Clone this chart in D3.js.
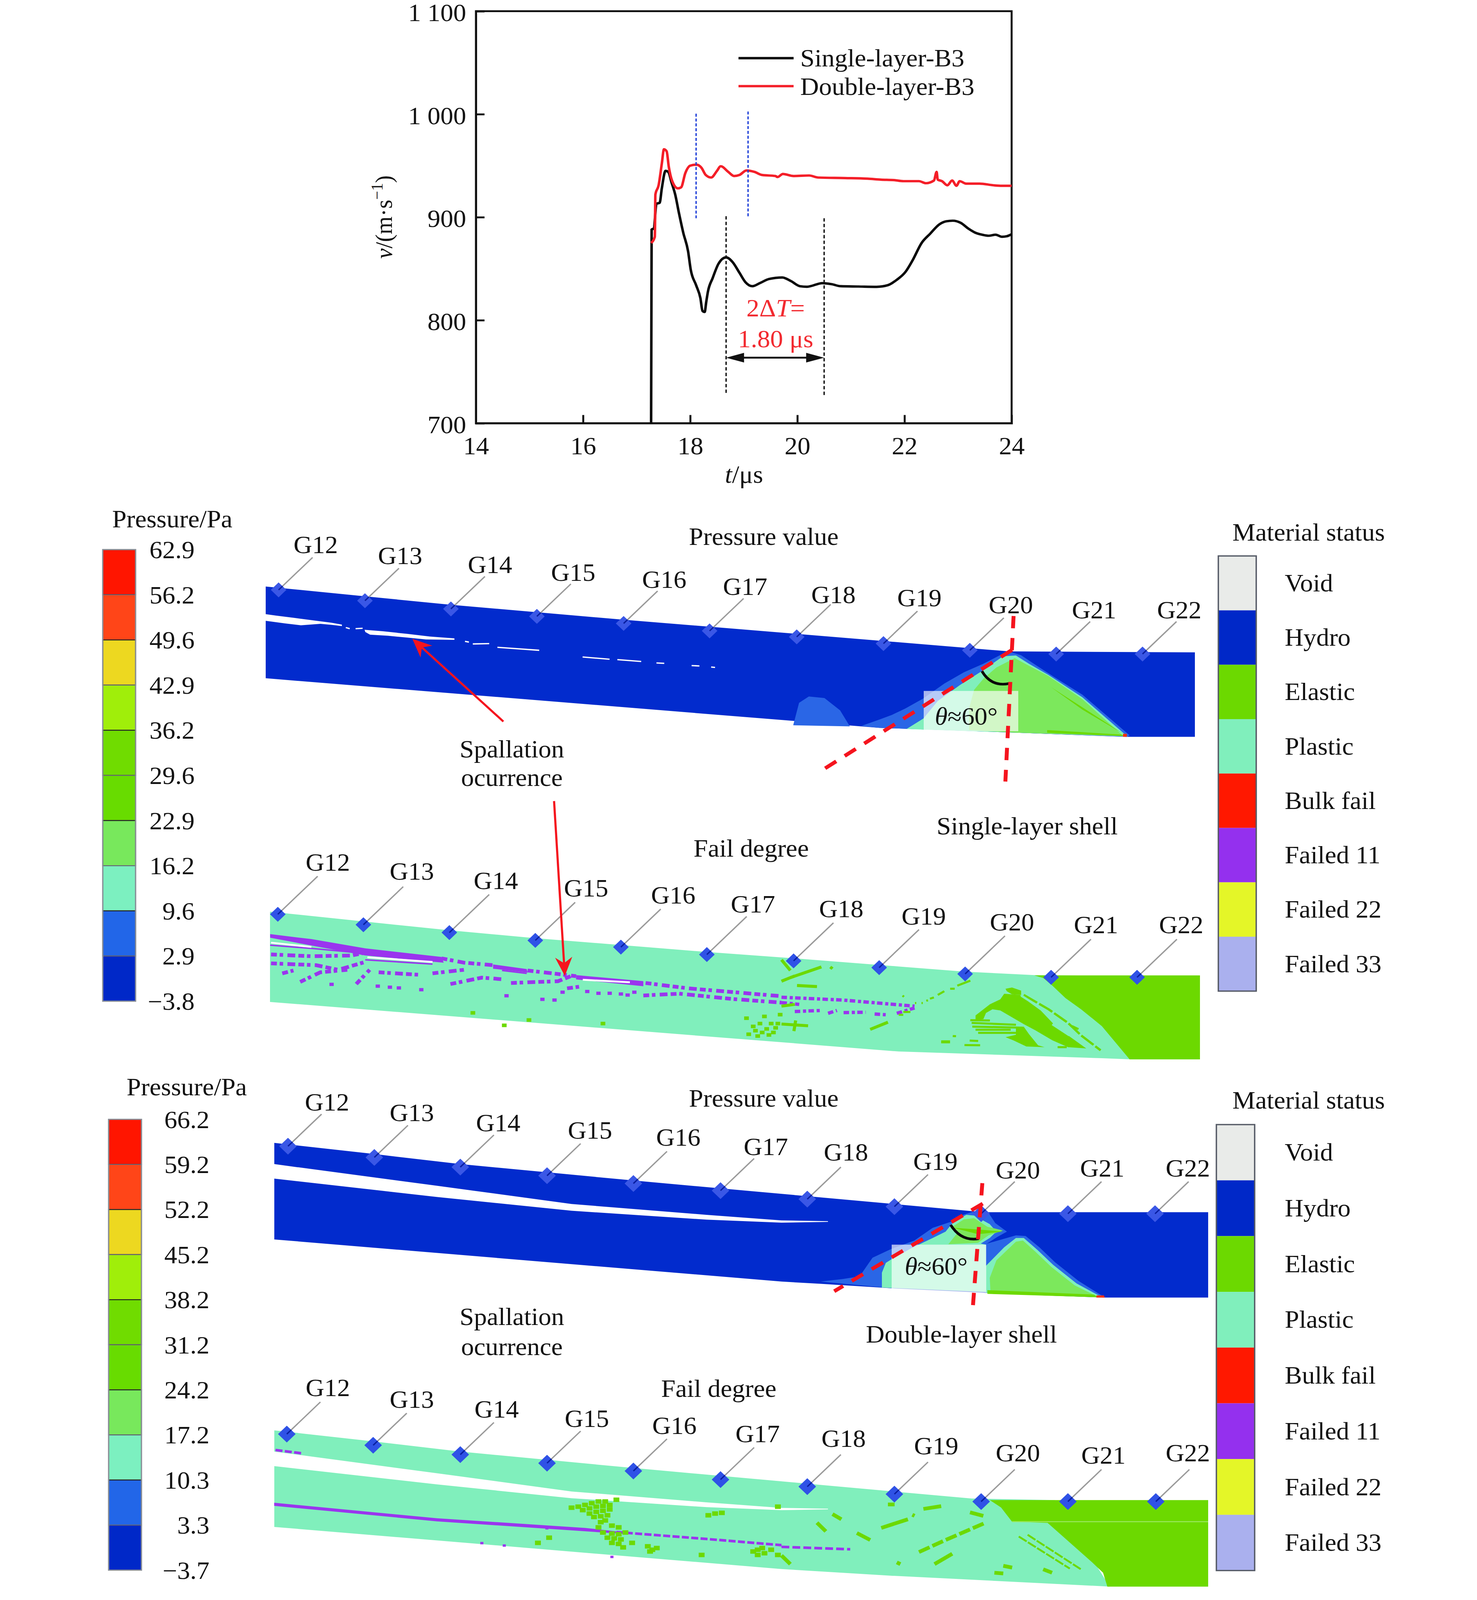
<!DOCTYPE html>
<html><head><meta charset="utf-8">
<script src="https://cdn.jsdelivr.net/npm/d3@7"></script>
<style>html,body{margin:0;padding:0;background:#fff;overflow:hidden}svg{display:block}text{font-family:"Liberation Serif",serif;fill:#111;font-size:66px}</style>
</head><body><div id="c"></div>
<script>
/* ---------- velocity curves ---------- */
const singleT=[17.27,17.28,17.32,17.37,17.43,17.47,17.54,17.59,17.65,17.72,17.79,17.87,17.96,18.01,18.11,18.19,18.23,18.27,18.30,18.33,18.42,18.53,18.67,18.79,18.92,19.03,19.16,19.30,19.47,19.72,19.88,20.05,20.18,20.47,20.64,20.81,21.14,21.48,21.69,21.85,22.02,22.15,22.32,22.48,22.65,22.78,22.90,23.05,23.19,23.32,23.45,23.57,23.70,23.82,23.91,24];
const singleV=[700,888,889,913,914,928,945,944,934,922,904,885,867,849,834,821.5,809,808,818,827.5,841,855,861,856.5,846,837,833,836,840,841.5,838,833,832.5,836,835,833,832.7,832.4,834,839,847,858,875,884,893,896,896.6,894.5,889,885,883,882,883,881,881.5,883.5];
const doubleT=[17.27,17.34,17.35,17.41,17.47,17.51,17.56,17.60,17.66,17.77,17.83,17.91,18.0,18.12,18.21,18.29,18.39,18.5,18.57,18.71,18.82,18.92,19.05,19.2,19.34,19.59,19.63,19.73,19.93,20.22,20.39,20.89,21.31,21.56,21.81,21.98,22.27,22.40,22.55,22.6,22.62,22.7,22.8,22.89,22.97,23.03,23.15,23.4,23.66,23.82,24];
const doubleV=[875,881,922,931,952,966,964,949,935.6,928,929,943,950,951,948,941,938.5,945,949.5,944,940,941,945.4,944,941,940,939,942,940,940.5,938.5,938,937.4,936.5,936,935,935,933,935.6,944,936.5,935,931,935.6,930.5,935,932.6,932.6,931,930.5,930.5];
const xTicks=[14,16,18,20,22,24];
const yTicks=[700,800,900,1000,1100];
const yTickLabels=["700","800","900","1 000","1 100"];
const seriesNames=["Single-layer-B3","Double-layer-B3"];
const blueMarks=[[18.11,1000.5,899],[19.08,1002.6,900.6]];
const blackMarks=[[18.67,901,727.7],[20.5,899,725.6]];

/* ---------- legends ---------- */
const pressureBandColors=["#FF1500","#FF4518","#EDD820","#A0EE0A","#70DC00","#68DC00","#78E85C","#7CF0C0","#2266E8","#0028C8"];
const pressureLabelsSingle=["62.9","56.2","49.6","42.9","36.2","29.6","22.9","16.2","9.6","2.9","\u22123.8"];
const pressureLabelsDouble=["66.2","59.2","52.2","45.2","38.2","31.2","24.2","17.2","10.3","3.3","\u22123.7"];
const statusNames=["Void","Hydro","Elastic","Plastic","Bulk fail","Failed 11","Failed 22","Failed 33"];
const statusColors=["#E9EBE9","#0028C8","#6CD900","#80EFBC","#FF1800","#9430EE","#E4F628","#AAB0EE"];
const gaugeNames=["G12","G13","G14","G15","G16","G17","G18","G19","G20","G21","G22"];

/* gauge stations: diamond x, y, label x, label y (figure pixels) */
const gaugesSP=[[713,1582,808,1461],[934,1611,1024,1491],[1154,1633,1254,1515],[1374,1653,1467,1536],[1596,1672,1700,1555],[1816,1692,1907,1574],[2039,1708,2133,1595],[2261,1726,2353,1604],[2482,1744,2587,1623],[2703,1754,2800,1636],[2924,1754,3018,1636]];
const gaugesSF=[[711,2452,839,2313],[930,2480,1054,2337],[1150,2501,1269,2362],[1370,2522,1500,2382],[1589,2540,1723,2401],[1809,2560,1927,2425],[2031,2577,2153,2438],[2250,2595,2364,2458],[2470,2612,2590,2473],[2690,2621,2805,2481],[2910,2621,3023,2481]];
const gaugesDP=[[737,3074,837,2956],[958,3104,1054,2985],[1178,3130,1275,3012],[1400,3153,1510,3032],[1621,3174,1736,3051],[1844,3193,1960,3076],[2066,3216,2165,3090],[2289,3236,2394,3116],[2511,3255,2605,3139],[2733,3255,2821,3133],[2956,3255,3040,3133]];
const gaugesDF=[[734,3846,839,3722],[955,3876,1054,3754],[1178,3901,1271,3780],[1400,3924,1502,3805],[1621,3945,1726,3824],[1844,3968,1939,3846],[2066,3987,2159,3858],[2289,4007,2396,3878],[2511,4027,2605,3897],[2733,4027,2824,3903],[2958,4027,3040,3897]];

/* ---------- material fields: outlines (figure pixels) ---------- */
const spHydro=[[680,1573],[1154,1622],[1596,1662],[2039,1700],[2583,1747],[3058,1749.5],[3058,1976],[2880,1976],[2603,1965],[2250,1952],[680,1819]];
const spGap1=[[680,1647],[707,1651],[753,1657],[810,1665],[847,1670],[875,1675],[875,1679],[850,1676],[820,1673],[770,1677],[730,1672],[680,1665]];
const spGap2=[[933,1689],[980,1693],[1043,1700],[1100,1707],[1163,1712],[1163,1716],[1090,1715],[1043,1710],[993,1705],[947,1702],[935,1695]];
const spGapSlivers=[[[1190,1720],[1200,1722]],[[1210,1727],[1252,1726]],[[1273,1736],[1380,1744]],[[1491,1762],[1560,1768]],[[1580,1769],[1641,1774]],[[1680,1778],[1700,1779]],[[1770,1785],[1790,1786]],[[1820,1789],[1830,1790]],[[885,1683],[895,1686]],[[910,1686],[928,1685]]];
const spMedium=[[2204,1947],[2250,1930],[2283,1917],[2317,1900],[2363,1873],[2417,1833],[2467,1803],[2517,1780],[2567,1753],[2590,1750],[2613,1757],[2650,1783],[2700,1817],[2770,1863],[2891,1972],[2885,1976],[2603,1965],[2250,1952]];
const spMediumBlob=[[2030,1945],[2045,1885],[2070,1868],[2110,1872],[2150,1905],[2175,1948]];
const spAqua=[[2320,1955],[2363,1927],[2400,1880],[2457,1837],[2517,1797],[2567,1760],[2600,1758],[2633,1780],[2683,1810],[2770,1870],[2885,1975],[2603,1965]];
const spLight=[[2480,1958],[2480,1900],[2493,1850],[2517,1820],[2550,1790],[2597,1765],[2627,1782],[2683,1813],[2770,1875],[2875,1974],[2603,1965]];
const spDark=[[[2690,1843],[2770,1897],[2878,1970],[2770,1903],[2690,1843]],[[2680,1958],[2870,1970],[2878,1974],[2680,1965]]];
const spRed=[[2874,1968],[2884,1968],[2884,1976],[2874,1976]];
const sfPlastic=[[691,2445],[1150,2495],[1370,2516],[1809,2553],[2031,2570],[2300,2592],[2470,2606],[2647,2615],[2760,2616],[2895,2841],[2820,2838],[2300,2820],[691,2687]];
const sfElastic=[[2647,2616],[3071,2616],[3071,2841],[2891,2841],[2820,2752],[2767,2707],[2727,2677],[2693,2643],[2670,2623]];
const dpHydro=[[702,3065],[958,3095],[1178,3122],[1621,3166],[2066,3208],[2487,3248],[2528,3251],[3092,3251],[3092,3480],[2823,3480],[2620,3472],[2283,3455],[2100,3443],[2000,3437],[702,3324]];
const gapDouble=[[702,3122],[1118,3180],[1463,3229],[1808,3258],[2000,3273],[2119,3275],[2119,3277],[2000,3279],[1808,3271],[1463,3247],[1118,3210],[702,3161]];
const dpMedium=[[2100,3437],[2157,3430],[2200,3423],[2233,3373],[2280,3350],[2340,3327],[2387,3293],[2433,3277],[2467,3257],[2490,3250],[2530,3253],[2547,3280],[2577,3303],[2553,3317],[2523,3337],[2523,3460],[2283,3455]];
const dpMedium2=[[2510,3340],[2560,3325],[2600,3313],[2625,3315],[2660,3345],[2700,3385],[2760,3435],[2828,3480],[2523,3467]];
const dpAqua=[[2257,3453],[2257,3413],[2267,3387],[2282,3377],[2333,3347],[2387,3320],[2420,3303],[2440,3277],[2473,3258],[2493,3260],[2533,3283],[2550,3303],[2533,3320],[2510,3335],[2523,3338],[2523,3465]];
const dpAqua2=[[2523,3395],[2570,3345],[2600,3320],[2620,3320],[2655,3352],[2695,3392],[2755,3442],[2822,3480],[2620,3472],[2523,3467]];
const dpLight=[[2427,3337],[2450,3307],[2433,3293],[2467,3270],[2493,3267],[2527,3290],[2567,3300],[2530,3313],[2503,3333]];
const dpLight2=[[2533,3427],[2550,3380],[2600,3330],[2618,3327],[2650,3357],[2690,3397],[2750,3447],[2810,3478],[2620,3470],[2535,3465]];
const dpDark=[[[2440,3293],[2500,3297],[2567,3303],[2503,3310]],[[2527,3460],[2800,3472],[2810,3479],[2527,3470]]];
const dpRed=[[2806,3474],[2825,3474],[2828,3480],[2806,3480]];
const dfPlastic=[[702,3836],[958,3866],[1178,3893],[1621,3937],[2066,3979],[2487,4019],[2700,4023],[2840,4255],[2283,4226],[2000,4208],[702,4095]];
const dfElastic=[[2533,4023],[3092,4023],[3092,4255],[2834,4255],[2823,4218],[2795,4190],[2681,4084],[2590,4081],[2562,4043]];
const dfElasticLine=[[2590,4081],[3092,4081]];

/* crop-space readings, converted below */
const sfPurpleBand=[[428,1218],[520,1232],[640,1258],[810,1282],[815,1298],[640,1278],[520,1250],[428,1228]];
const sfPurpleBand2=[[925,1303],[1000,1316],[1002,1326],[925,1315]];
const sfPurpleBand3=[[1110,1333],[1260,1350],[1260,1364],[1110,1345]];
const sfPurpleThin=[[[428,1249],[520,1258],[640,1272]],[[640,1290],[790,1302]],[[945,1320],[1000,1328]]];
const sfWhite=[[[430,1242],[520,1254]],[[645,1283],[790,1296]],[[1125,1346],[1230,1353]]];
const sfPurpleRows=[[[810,1286],[860,1298],[925,1305]],[[1002,1320],[1085,1332],[1110,1336]],[[1265,1355],[1360,1370],[1568,1392]],[[430,1275],[520,1280],[610,1278],[640,1270]],[[430,1300],[530,1305],[580,1318],[640,1296]],[[455,1328],[480,1320]],[[495,1352],[540,1325],[600,1318]],[[620,1358],[650,1318]],[[670,1325],[760,1332]],[[790,1328],[860,1318]],[[830,1358],[900,1340],[950,1345]],[[965,1355],[1070,1350],[1100,1335]],[[1090,1370],[1120,1365]],[[1260,1390],[1340,1385],[1460,1400],[1568,1410]]];
const sfPurpleDots=[[565,1360],[668,1365],[695,1368],[715,1370],[765,1375],[955,1392],[1035,1402],[1062,1404],[1080,1382],[1135,1380],[1160,1385],[1185,1385],[1210,1387],[1225,1390],[1240,1382]];
const sfPurpleRowsB=[[[0,1395],[140,1403],[300,1420]],[[30,1435],[90,1432]],[[105,1440],[125,1432]],[[140,1438],[190,1437]],[[210,1442],[235,1444]],[[0,1410],[40,1415]],[[260,1440],[300,1425]]];
const sfGreenPtsA=[[1495,1500],[1510,1490],[1520,1470],[1535,1485],[1550,1495],[1560,1470],[1565,1445],[1490,1455],[1530,1450],[1545,1470],[1505,1478],[1525,1495],[1540,1502],[1515,1505],[1555,1482],[880,1440],[1005,1460],[1170,1470],[950,1475]];
const sfGreenLinesB=[[[20,1340],[90,1310]],[[0,1350],[30,1335]],[[35,1362],[80,1365]],[[0,1470],[60,1475]],[[32,1460],[28,1490]],[[200,1485],[240,1465]],[[0,1420],[30,1415]],[[0,1290],[20,1320]],[[110,1310],[115,1315]],[[360,1520],[380,1520]]];
/* Z10 crop */
const sfGreenBody=[[590,730],[700,640],[780,600],[810,555],[930,565],[1090,690],[1190,800],[1300,890],[1440,995],[1300,985],[1180,930],[1050,850],[960,800],[780,690],[720,680],[670,710],[650,760],[590,770]];
const sfGreenLobe=[[820,515],[870,505],[940,530],[940,565],[870,560],[830,535]];
const sfGreenWedge=[[900,825],[960,820],[1000,880],[1070,970],[1120,985],[980,980],[880,930],[820,905],[900,885]];
const sfGreenStripes=[[[550,768],[700,770]],[[560,790],[900,805]],[[565,820],[950,828]],[[590,845],[860,845]],[[610,870],[900,870]],[[505,968],[625,970]],[[545,932],[610,935]],[[415,896],[440,897]],[[1220,985],[1290,985]],[[1330,815],[1380,840]],[[30,570],[40,580]],[[35,702],[90,702]],[[0,725],[35,725]],[[550,450],[450,490]],[[430,515],[395,515]],[[350,535],[300,565]],[[270,585],[240,595]],[[225,608],[212,612]],[[185,630],[175,630]],[[135,630],[125,630]]];
const sfGreenStreak=[[960,565],[1150,680],[1300,790],[1400,890],[1550,1010]];
const sfAquaCut=[[[940,570],[1000,610],[1180,745]],[[1180,800],[1310,890]]];
const dfGreenPts=[[1100,1303],[1115,1300],[1130,1295],[1145,1290],[1160,1285],[1175,1285],[1200,1280],[1125,1310],[1140,1305],[1155,1300],[1170,1298],[1185,1295],[1140,1320],[1155,1315],[1170,1312],[1185,1308],[1150,1330],[1165,1328],[1180,1325],[1165,1345],[1175,1340],[1160,1360],[1190,1355],[1205,1360],[1170,1375],[1190,1378],[1205,1380],[1220,1375],[1180,1390],[1195,1392],[1210,1395],[1190,1405],[1205,1408],[1215,1418],[1235,1405],[1050,1390],[1025,1405],[1270,1415],[1280,1425],[1290,1420],[1275,1430],[1505,1430],[1515,1425],[1525,1420],[1530,1435],[1515,1440],[1545,1425],[1560,1440],[1405,1325],[1420,1320],[1435,1318],[1560,1300],[1390,1440]];
const dfPurpleBand=[[437,1287],[800,1332],[1130,1360],[1200,1370],[1200,1376],[800,1341],[437,1296]];
const dfPurpleRows=[[[1200,1372],[1400,1392],[1568,1410]],[[440,1134],[500,1144]]];
const dfPurpleDots=[[900,1405],[950,1412],[1190,1445],[1045,1362]];
const dfPurpleRowsD=[[[0,1415],[155,1422]]];
const dfGreenLinesD=[[[115,1320],[135,1335]],[[80,1345],[100,1370]],[[170,1375],[200,1395]],[[225,1360],[285,1335]],[[240,1292],[255,1292]],[[320,1305],[360,1297]],[[295,1322],[300,1325]],[[425,1315],[455,1325]],[[345,1465],[385,1435]],[[0,1440],[20,1465]],[[260,1460],[268,1465]],[[500,1470],[520,1475]],[[590,1480],[610,1490]],[[480,1490],[500,1492]]];
const dfGreenStreak=[[310,1430],[370,1395],[460,1345]];
const dfGreenPar=[[[535,1385],[650,1478]],[[555,1380],[675,1480]]];

const W=3780,H=4291;
const BLUE="#022BCD",MED="#2A66E6",AQUA="#80EFBC",LIGHT="#7CE85C",GREEN="#6CD900",PURPLE="#9A35EE",RED="#F5141E";

const svg=d3.select("#c").append("svg").attr("width",window.innerWidth).attr("height",window.innerHeight).attr("viewBox",[0,0,W,H]).attr("preserveAspectRatio","none");
svg.append("rect").attr("width",W).attr("height",H).attr("fill","#fff");

/* figure scales and crop converters */
const fx=d3.scaleLinear([0,W],[0,W]), fy=d3.scaleLinear([0,H],[0,H]);
const cropScale=(x0,w,y0,h,ow,oh)=>{const a=d3.scaleLinear([0,ow],[x0,x0+w]),b=d3.scaleLinear([0,oh],[y0,y0+h]);return p=>p.map(d=>[a(d[0]),b(d[1])]);};
const A=cropScale(200,1800,1340,1500,1568,1568),B=cropScale(2000,1780,1340,1500,1568,1568),
      C=cropScale(200,1800,2840,1450,1568,1568),D=cropScale(2000,1780,2840,1450,1568,1568),
      Z10=cropScale(2300,520,2480,360,1560,1080);
const shift=(p,dy)=>p.map(d=>[d[0],d[1]+dy]);
const path=d3.line().x(d=>fx(d[0])).y(d=>fy(d[1]));
function poly(pts,fill,op){return svg.append("path").attr("d",path(pts)+"Z").attr("fill",fill).attr("fill-opacity",op==null?1:op);}
function stroke(pts,col,w,dash,cap){const s=svg.append("path").attr("d",path(pts)).attr("fill","none").attr("stroke",col).attr("stroke-width",w).attr("stroke-linecap",cap||"butt").attr("stroke-linejoin","round");if(dash)s.attr("stroke-dasharray",dash);return s;}
function dots(pts,col,size){svg.append("g").selectAll("rect").data(pts).join("rect").attr("x",d=>fx(d[0])-size/2).attr("y",d=>fy(d[1])-size/2).attr("width",size).attr("height",size*0.8).attr("fill",col);}
function label(x,y,t,anchor){return svg.append("text").attr("x",fx(x)).attr("y",fy(y)).attr("text-anchor",anchor||"start").text(t);}

/* ---------- velocity chart ---------- */
const x=d3.scaleLinear([14,24],[1218,2589]), y=d3.scaleLinear([700,1100],[1135,30]);
const g=svg.append("g");
const axB=g.append("g").attr("transform",`translate(0,${y(700)})`).call(d3.axisBottom(x).tickValues(xTicks).tickSize(-22).tickPadding(0).tickFormat(d3.format("d")));
const axL=g.append("g").attr("transform",`translate(${x(14)},0)`).call(d3.axisLeft(y).tickValues(yTicks).tickSize(-22).tickFormat((d,i)=>yTickLabels[i]));
[axB,axL].forEach(a=>{a.selectAll("path,line").attr("stroke","#111").attr("stroke-width",5);a.selectAll("text").style("font-size","66px").attr("fill","#111").style("font-family",'"Liberation Serif",serif');});
axB.selectAll("text").attr("y",0).attr("dy",83);
axL.selectAll("text").attr("x",-25).attr("dy",26);
g.append("rect").attr("x",x(14)).attr("y",y(1100)).attr("width",x(24)-x(14)).attr("height",y(700)-y(1100)).attr("fill","none").attr("stroke","#111").attr("stroke-width",5);
const curve=d3.line().x(d=>x(d[0])).y(d=>y(d[1])).curve(d3.curveMonotoneX);
g.append("path").attr("d",curve(d3.zip(singleT,singleV))).attr("fill","none").attr("stroke","#0a0a0a").attr("stroke-width",6.5);
g.append("path").attr("d",curve(d3.zip(doubleT,doubleV))).attr("fill","none").attr("stroke","#F41E28").attr("stroke-width",6.5);
blueMarks.forEach(m=>g.append("line").attr("x1",x(m[0])).attr("x2",x(m[0])).attr("y1",y(m[1])).attr("y2",y(m[2])).attr("stroke","#1F3FD8").attr("stroke-width",3.5).attr("stroke-dasharray","8 5"));
blackMarks.forEach(m=>g.append("line").attr("x1",x(m[0])).attr("x2",x(m[0])).attr("y1",y(m[1])).attr("y2",y(m[2])).attr("stroke","#111").attr("stroke-width",3.5).attr("stroke-dasharray","9 6"));
/* legend */
[["#0a0a0a",156,178],["#F41E28",231,255]].forEach((l,i)=>{
  g.append("line").attr("x1",1890).attr("x2",2031).attr("y1",l[1]).attr("y2",l[1]).attr("stroke",l[0]).attr("stroke-width",6.5);
  label(2048,l[2],seriesNames[i]);
});
/* interval arrow */
const ay=y(763.6),ax1=x(blackMarks[0][0]),ax2=x(blackMarks[1][0]);
g.append("line").attr("x1",ax1+20).attr("x2",ax2-20).attr("y1",ay).attr("y2",ay).attr("stroke","#111").attr("stroke-width",5);
g.append("path").attr("d",`M${ax1},${ay}L${ax1+46},${ay-13}L${ax1+46},${ay+13}Z M${ax2},${ay}L${ax2-46},${ay-13}L${ax2-46},${ay+13}Z`).attr("fill","#111");
const t1=label(1985,849,"","middle").style("fill","#F22A30");
t1.append("tspan").text("2\u0394");t1.append("tspan").attr("font-style","italic").text("T");t1.append("tspan").text("=");
label(1985,931,"1.80 \u03bcs","middle").style("fill","#F22A30");
const xt=label(1904,1295,"","middle");xt.append("tspan").attr("font-style","italic").text("t");xt.append("tspan").text("/\u03bcs");
const yt=svg.append("text").attr("transform","translate(1003,582) rotate(-90)").attr("text-anchor","middle").style("font-size","62px");
yt.append("tspan").attr("font-style","italic").text("v");yt.append("tspan").text("/(m\u00b7s");
yt.append("tspan").attr("dy",-24).style("font-size","42px").text("\u22121");yt.append("tspan").attr("dy",24).text(")");

/* ---------- legends ---------- */
function pressureLegend(bx,bw,top,bottom,labels,rx,titleX,titleY){
  const s=d3.scaleLinear([0,pressureBandColors.length],[top,bottom]);
  svg.append("g").selectAll("rect").data(pressureBandColors).join("rect").attr("x",bx).attr("width",bw).attr("y",(d,i)=>s(i)).attr("height",(d,i)=>s(i+1)-s(i)).attr("fill",d=>d).attr("stroke",(d,i)=>i%2?"#667":"#222").attr("stroke-width",2.5);
  svg.append("rect").attr("x",bx).attr("y",top).attr("width",bw).attr("height",bottom-top).attr("fill","none").attr("stroke","#8a8f98").attr("stroke-width",3);
  labels.forEach((t,i)=>label(rx,s(i)+23,t,"end"));
  label(titleX,titleY,"Pressure/Pa");
}
pressureLegend(263,84,1474,2685,pressureLabelsSingle,498,287,1414);
pressureLegend(278,84,3002,4211,pressureLabelsDouble,536,324,2937);
function statusLegend(bx,bw,top,bottom,titleY){
  const s=d3.scaleLinear([0,statusNames.length],[top,bottom]);
  svg.append("g").selectAll("rect").data(statusColors).join("rect").attr("x",bx).attr("width",bw).attr("y",(d,i)=>s(i)).attr("height",(d,i)=>s(i+1)-s(i)).attr("fill",d=>d);
  svg.append("rect").attr("x",bx).attr("y",top).attr("width",bw).attr("height",bottom-top).attr("fill","none").attr("stroke","#555a66").attr("stroke-width",3.5);
  statusNames.forEach((t,i)=>label(3288,(s(i)+s(i+1))/2+22,t));
  label(3154,titleY,"Material status");
}
statusLegend(3118,97,1491,2658,1450);
statusLegend(3113,98,3016,4212,2973);

/* ---------- single-layer, pressure ---------- */
poly(spHydro,BLUE);
poly(spGap1,"#fff");poly(spGap2,"#fff");
spGapSlivers.forEach(s=>stroke(s,"#fff",3.5));
poly(spMediumBlob,MED);poly(spMedium,MED);poly(spAqua,AQUA);poly(spLight,LIGHT);
spDark.forEach(p=>poly(p,GREEN));poly(spRed,"#F03010");

/* ---------- single-layer, fail degree ---------- */
poly(sfPlastic,AQUA);poly(sfElastic,GREEN);
poly(A(sfPurpleBand),PURPLE);poly(A(sfPurpleBand2),PURPLE);poly(A(sfPurpleBand3),PURPLE);
sfPurpleThin.forEach(p=>stroke(A(p),PURPLE,4));
sfWhite.forEach(p=>stroke(A(p),"#fff",5));
sfPurpleRows.forEach(p=>stroke(A(p),PURPLE,10,"15 7 9 11 20 8"));
sfPurpleRowsB.forEach(p=>stroke(B(p),PURPLE,9,"14 7 8 6"));
dots(A(sfPurpleDots),PURPLE,11);
dots(A(sfGreenPtsA),GREEN,12);
sfGreenLinesB.forEach(p=>stroke(B(p),GREEN,8));
poly(Z10(sfGreenBody),GREEN);poly(Z10(sfGreenLobe),GREEN);poly(Z10(sfGreenWedge),GREEN);
sfGreenStripes.forEach(p=>stroke(Z10(p),GREEN,5.5));
stroke(Z10(sfGreenStreak),GREEN,6,"40 6");
sfAquaCut.forEach(p=>stroke(Z10(p),AQUA,6));

/* ---------- double-layer, pressure ---------- */
poly(dpHydro,BLUE);poly(gapDouble,"#fff");
poly(dpMedium,MED);poly(dpMedium2,MED);poly(dpAqua,AQUA);poly(dpAqua2,AQUA);poly(dpLight,LIGHT);poly(dpLight2,LIGHT);
dpDark.forEach(p=>poly(p,GREEN));poly(dpRed,"#F03010");

/* ---------- double-layer, fail degree ---------- */
poly(dfPlastic,AQUA);poly(dfElastic,GREEN);stroke(dfElasticLine,"#9BE860",2.5);
poly(shift(gapDouble,771),"#fff");
poly(C(dfPurpleBand),PURPLE);
dfPurpleRows.forEach(p=>stroke(C(p),PURPLE,7,"18 6"));
dfPurpleRowsD.forEach(p=>stroke(D(p),PURPLE,7,"20 8"));
dots(C(dfPurpleDots),PURPLE,8);
dots(C(dfGreenPts),GREEN,15);
dfGreenLinesD.forEach(p=>stroke(D(p),GREEN,10));
stroke(D(dfGreenStreak),GREEN,10,"30 8");
dfGreenPar.forEach(p=>stroke(D(p),GREEN,5,"24 4"));

/* ---------- gauges ---------- */
function gauges(data,off,half,color){
  data.forEach((d,i)=>{
    svg.append("line").attr("x1",fx(d[0])).attr("y1",fy(d[1])).attr("x2",fx(d[0]+off)).attr("y2",fy(d[1]-off)).attr("stroke","#9a9a9a").attr("stroke-width",3.5);
    svg.append("path").attr("d",d3.symbol(d3.symbolSquare,2*half*half)()).attr("transform",`translate(${fx(d[0])},${fy(d[1])}) rotate(45)`).attr("fill",color);
    svg.append("line").attr("x1",fx(d[0])).attr("y1",fy(d[1])).attr("x2",fx(d[0]+half*.5)).attr("y2",fy(d[1]-half*.5)).attr("stroke","#0A1FA0").attr("stroke-width",3.5);
    label(d[2],d[3]+22,gaugeNames[i],"middle");
  });
}
gauges(gaugesSP,87,20,"#3A57E6");
gauges(gaugesSF,102,20,"#2F52E6");
gauges(gaugesDP,86,22.5,"#3A57E6");
gauges(gaugesDF,86,22.5,"#2F52E6");

/* ---------- annotation boxes, angle guides ---------- */
function angle(box,l1,l2,arc,tx,ty){
  svg.append("rect").attr("x",box[0]).attr("y",box[1]).attr("width",box[2]-box[0]).attr("height",box[3]-box[1]).attr("fill","#fff").attr("fill-opacity",.66);
  svg.append("path").attr("d",`M${arc[0]},${arc[1]}Q${arc[2]},${arc[3]} ${arc[4]},${arc[5]}`).attr("fill","none").attr("stroke","#0a0a0a").attr("stroke-width",7);
  stroke(l1,RED,10,"34 26");stroke(l2,RED,10,"33 26");
  const t=label(tx,ty,"","middle");t.append("tspan").attr("font-style","italic").text("\u03b8");t.append("tspan").text("\u224860\u00b0");
}
angle([2364,1853,2606,1961],[[2590,1743],[2102,2067]],[[2594,1652],[2573,2096]],[2513,1800,2537,1843,2583,1833],2473,1943);
angle([2282,3338,2524,3467],[[2515,3228],[2135,3463]],[[2514,3173],[2490,3502]],[2433,3285,2460,3330,2505,3322],2396,3418);

/* ---------- spallation arrows ---------- */
function arrow(from,to){
  const a=Math.atan2(to[1]-from[1],to[0]-from[0]),L=50,wd=22,nk=34;
  const u=[Math.cos(a),Math.sin(a)],n=[-u[1],u[0]];
  const p1=[to[0]-u[0]*L+n[0]*wd,to[1]-u[1]*L+n[1]*wd],p2=[to[0]-u[0]*L-n[0]*wd,to[1]-u[1]*L-n[1]*wd],k=[to[0]-u[0]*nk,to[1]-u[1]*nk];
  stroke([from,k],RED,5.5);poly([to,p1,k,p2],RED);
}
const arrows=[[[948,622],[745,390]],[[1061,845],[1085,1335]]];
arrows.forEach(a=>{const q=A(a);arrow(q[0],q[1]);});

/* ---------- panel text ---------- */
label(1310,2031,"Spallation","middle");label(1310,2108,"ocurrence","middle");
label(1763,1461,"Pressure value");label(1775,2297,"Fail degree");label(2397,2238,"Single-layer shell");
label(1310,3554,"Spallation","middle");label(1310,3634,"ocurrence","middle");
label(1763,2968,"Pressure value");label(1692,3746,"Fail degree");label(2216,3601,"Double-layer shell");
</script></body></html>
